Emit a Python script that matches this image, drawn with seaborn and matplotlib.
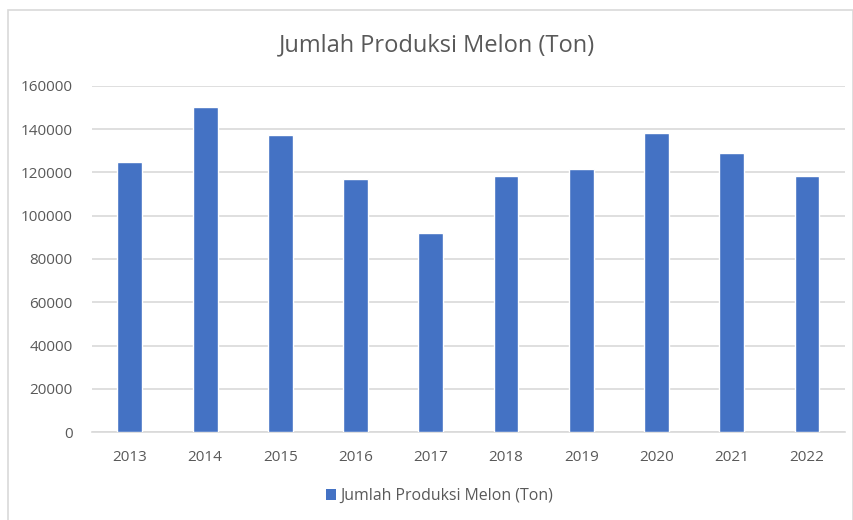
import matplotlib
matplotlib.use("Agg")
import matplotlib.pyplot as plt
import seaborn as sns
import pandas as pd
from matplotlib.patches import Rectangle, Patch

years = ["2013", "2014", "2015", "2016", "2017", "2018", "2019", "2020", "2021", "2022"]
production = [124700, 150100, 137500, 116900, 91900, 118300, 121600, 138100, 128800, 118300]
series_name = "Jumlah Produksi Melon (Ton)"
yticks = [0, 20000, 40000, 60000, 80000, 100000, 120000, 140000, 160000]

df = pd.DataFrame({"Tahun": years, "Produksi": production})

sns.set_theme(style="white")
plt.rcParams['font.family'] = ['Open Sans', 'DejaVu Sans']

fig = plt.figure(figsize=(8.54, 5.2), dpi=100)
ax = fig.add_axes([0.108, 0.169, 0.881, 0.666])

sns.barplot(data=df, x="Tahun", y="Produksi", color="#4472C4", width=0.33,
            saturation=1, ax=ax, zorder=3)

ax.set_ylim(0, 160000)
ax.set_yticks(yticks)
ax.set_yticklabels([str(v) for v in yticks])
ax.yaxis.grid(True, color="#D9D9D9", linewidth=1.2, zorder=0)
ax.set_axisbelow(True)
for s in ["top", "right", "left"]:
    ax.spines[s].set_visible(False)
ax.spines["bottom"].set_color("#D9D9D9")
ax.spines["bottom"].set_linewidth(1.2)
ax.set_xlabel("")
ax.set_ylabel("")
ax.tick_params(axis="both", length=0, labelsize=11, labelcolor="#595959")
ax.tick_params(axis="x", pad=13)
ax.tick_params(axis="y", pad=14)

fig.text(0.512, 0.912, series_name, ha="center", va="center",
         fontsize=17, color="#595959")

handles = [Patch(facecolor="#4472C4", edgecolor="none")]
fig.legend(handles, [series_name], loc="center", bbox_to_anchor=(0.515, 0.046),
           frameon=False, fontsize=11.4, labelcolor="#595959",
           handlelength=0.6, handleheight=0.6, handletextpad=0.3)

fig.patches.append(Rectangle((0.009, -0.01), 0.99, 0.99, transform=fig.transFigure,
                             fill=False, edgecolor="#D9D9D9", linewidth=1.2))

fig.savefig("out.png", dpi=100)
